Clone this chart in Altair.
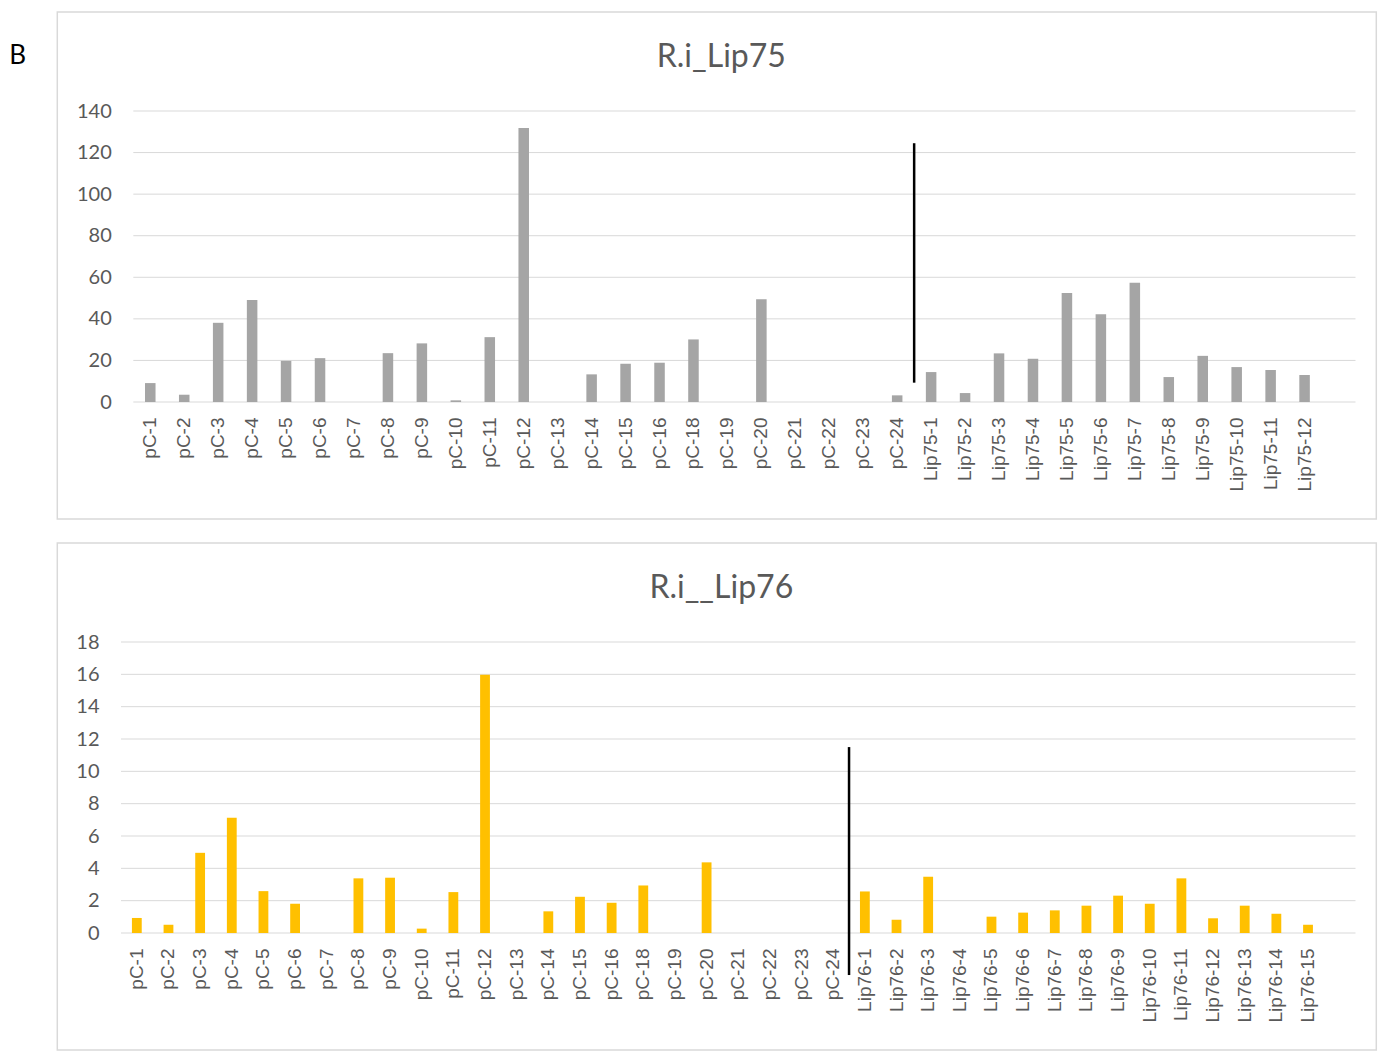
import altair as alt
import pandas as pd

# ---------------- data ----------------
pc_labels = ["pC-1", "pC-2", "pC-3", "pC-4", "pC-5", "pC-6", "pC-7", "pC-8",
             "pC-9", "pC-10", "pC-11", "pC-12", "pC-13", "pC-14", "pC-15",
             "pC-16", "pC-18", "pC-19", "pC-20", "pC-21", "pC-22", "pC-23", "pC-24"]
lip75_labels = ["Lip75-1", "Lip75-2", "Lip75-3", "Lip75-4", "Lip75-5", "Lip75-6",
                "Lip75-7", "Lip75-8", "Lip75-9", "Lip75-10", "Lip75-11", "Lip75-12"]
lip76_labels = ["Lip76-1", "Lip76-2", "Lip76-3", "Lip76-4", "Lip76-5", "Lip76-6",
                "Lip76-7", "Lip76-8", "Lip76-9", "Lip76-10", "Lip76-11", "Lip76-12",
                "Lip76-13", "Lip76-14", "Lip76-15"]

top_pc_values = [9.1, 3.5, 38.1, 49.1, 19.8, 21.1, 0, 23.5, 28.2, 0.8, 31.2, 131.8,
                 0, 13.3, 18.4, 18.9, 30.1, 0, 49.4, 0, 0, 0, 3.2]
top_lip_values = [14.4, 4.3, 23.4, 20.8, 52.5, 42.2, 57.4, 12.0, 22.2, 16.8, 15.4, 13.0]

bottom_pc_values = [0.93, 0.51, 4.96, 7.13, 2.59, 1.81, 0, 3.38, 3.42, 0.27, 2.53, 15.98,
                    0, 1.34, 2.24, 1.87, 2.94, 0, 4.37, 0, 0, 0, 0]
bottom_lip_values = [2.57, 0.82, 3.48, 0, 1.01, 1.26, 1.40, 1.69, 2.31, 1.81, 3.38,
                     0.91, 1.69, 1.19, 0.51]

top_title = "R.i_Lip75"
bottom_title = "R.i__Lip76"
panel_letter = "B"

top_y_ticks = [0, 20, 40, 60, 80, 100, 120, 140]
bottom_y_ticks = [0, 2, 4, 6, 8, 10, 12, 14, 16, 18]

# divider lines (category after the line, lower / upper value)
top_divider = ["Lip75-1", 9.3, 124.5]
bottom_divider = ["Lip76-1", -2.6, 11.5]

GRID = "#d9d9d9"
TEXT = "#595959"

ORIGIN_X = 120.7      # common plot origin (page px) of both panels
PLOT_RIGHT = 1355.2   # right end of both plot areas (page px)
BOX_LEFT, BOX_RIGHT = 57, 1376


def panel(cats, vals, color, ymax, yticks, title, plot_left, plot_top,
          box_top, box_bottom, divider, letter=None):
    width = PLOT_RIGHT - ORIGIN_X
    x0 = plot_left - ORIGIN_X
    domain = cats + [" "]
    step = (width - x0) / len(domain)
    df = pd.DataFrame({"cat": cats, "value": vals})
    xscale = alt.Scale(domain=domain, range=[x0, width],
                       paddingInner=0.69, paddingOuter=0.345)
    yscale = alt.Scale(domain=[0, ymax], nice=False)
    x_axis = alt.Axis(title=None, labelAngle=-90, labelFont="Liberation Sans",
                      labelFontSize=19, labelColor=TEXT, labelPadding=15,
                      ticks=False, domain=False, grid=False, labelOverlap=False)
    y_axis = alt.Axis(title=None, values=yticks, labelFont="Lato",
                      labelFontSize=20, labelColor=TEXT,
                      labelPadding=22 - x0, labelOverlap=False,
                      ticks=False, domain=False, grid=False)

    grid = alt.Chart(pd.DataFrame({"value": yticks})).mark_rule(
        color=GRID, strokeWidth=1).encode(
        y=alt.Y("value:Q", scale=yscale, axis=y_axis),
        x=alt.value(x0), x2=alt.value(width))

    bars = alt.Chart(df).mark_bar(color=color).encode(
        x=alt.X("cat:N", scale=xscale, sort=None, axis=x_axis),
        y=alt.Y("value:Q", scale=yscale, axis=y_axis),
    )

    ddf = pd.DataFrame({"cat": [divider[0]], "value": [divider[1]], "hi": [divider[2]]})
    rule = alt.Chart(ddf).mark_rule(color="black", strokeWidth=2.5,
                                    xOffset=-step / 2).encode(
        x=alt.X("cat:N", scale=xscale, sort=None, axis=x_axis),
        y=alt.Y("value:Q", scale=yscale, axis=y_axis), y2="hi:Q")

    one = pd.DataFrame({"a": [0]})
    border = alt.Chart(one).mark_rect(fillOpacity=0, stroke=GRID, strokeWidth=1.5).encode(
        x=alt.value(BOX_LEFT - ORIGIN_X), x2=alt.value(BOX_RIGHT - ORIGIN_X),
        y=alt.value(box_top - plot_top), y2=alt.value(box_bottom - plot_top))
    ttl = alt.Chart(one).mark_text(text=title, font="Lato", fontSize=32, color=TEXT,
                                   align="center", baseline="alphabetic").encode(
        x=alt.value(721 - ORIGIN_X), y=alt.value(-44))
    anchor = alt.Chart(one).mark_rule(opacity=0, strokeWidth=0.1).encode(
        x=alt.value(8 - ORIGIN_X), y=alt.value(0), y2=alt.value(10))

    layers = [border, grid, bars, rule, ttl, anchor]
    if letter:
        lt = alt.Chart(one).mark_text(text=letter, font="Lato", fontSize=26,
                                      color="black", align="left",
                                      baseline="alphabetic").encode(
            x=alt.value(9 - ORIGIN_X), y=alt.value(63 - plot_top))
        layers.append(lt)
    return alt.layer(*layers).properties(width=width, height=291)


top = panel(pc_labels + lip75_labels, top_pc_values + top_lip_values, "#a5a5a5",
            140, top_y_ticks, top_title, 133, 110, 11, 518, top_divider,
            panel_letter)
bottom = panel(pc_labels + lip76_labels, bottom_pc_values + bottom_lip_values, "#ffc000",
               18, bottom_y_ticks, bottom_title, 120.7, 639, 540, 1047,
               bottom_divider)

chart = alt.vconcat(top, bottom, spacing=22).properties(
    padding={"left": 0, "top": 3, "right": 0, "bottom": 0}
).configure_view(stroke=None)

chart.save("out.html", embed_options={"renderer": "svg", "actions": False})
